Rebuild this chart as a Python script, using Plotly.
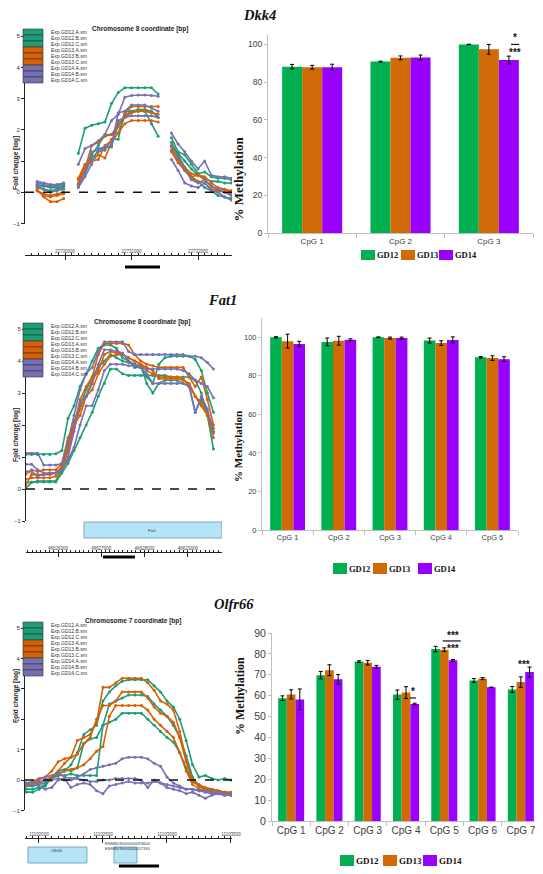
import plotly.graph_objects as go

W, H = 543, 874
OFF = 8  # browser default page margin
FW, FH = W - OFF, H - OFF

# ---------------- data ----------------
series_names = ["Exp.GD12.A.sm", "Exp.GD12.B.sm", "Exp.GD12.C.sm",
                "Exp.GD13.A.sm", "Exp.GD13.B.sm", "Exp.GD13.C.sm",
                "Exp.GD14.A.sm", "Exp.GD14.B.sm", "Exp.GD14.C.sm"]
series_colors = ["#1b9e77"] * 3 + ["#d95f02"] * 3 + ["#7570b3"] * 3

# Dkk4 tiling-array probes (chr8), three probe blocks
dkk4_pos_a = list(range(22729580, 22730000, 100))
dkk4_pos_b = list(range(22730200, 22731401, 100))
dkk4_pos_c = list(range(22731600, 22732501, 100))
dkk4_fc_a = [
    [0.20, 0.20, 0.15, 0.15, 0.20],
    [0.15, 0.10, 0.05, 0.10, 0.15],
    [0.25, 0.20, 0.20, 0.20, 0.25],
    [0.05, -0.05, -0.10, -0.05, 0.00],
    [0.10, -0.15, -0.30, -0.30, -0.20],
    [0.05, -0.10, -0.15, -0.10, -0.05],
    [0.35, 0.30, 0.25, 0.25, 0.30],
    [0.30, 0.25, 0.20, 0.20, 0.30],
    [0.20, 0.10, 0.00, 0.05, 0.10],
]
dkk4_fc_b = [
    [1.25, 2.05, 2.15, 2.20, 2.25, 2.85, 3.20, 3.35, 3.35, 3.35, 3.35, 3.35, 3.15],
    [0.20, 0.60, 1.10, 1.30, 1.35, 1.70, 1.70, 2.60, 2.60, 2.65, 2.65, 2.60, 2.40],
    [0.25, 0.80, 1.20, 1.50, 1.85, 1.85, 1.90, 2.45, 2.60, 2.60, 2.60, 2.20, 1.80],
    [0.45, 0.90, 1.00, 1.05, 1.50, 1.65, 2.10, 2.50, 2.75, 2.75, 2.75, 2.75, 2.75],
    [0.30, 0.75, 1.50, 1.60, 1.80, 1.85, 2.20, 2.40, 2.55, 2.60, 2.60, 2.55, 2.50],
    [0.40, 0.80, 1.00, 1.20, 1.10, 1.60, 1.90, 2.20, 2.30, 2.30, 2.30, 2.30, 2.25],
    [0.90, 1.40, 1.50, 1.65, 1.85, 2.30, 2.50, 3.05, 3.10, 3.12, 3.12, 3.10, 3.08],
    [0.20, 0.60, 1.30, 1.35, 1.40, 1.50, 2.55, 2.60, 2.80, 2.80, 2.80, 2.70, 2.60],
    [0.15, 0.50, 0.90, 1.40, 1.45, 1.45, 2.30, 2.40, 2.45, 2.45, 2.45, 2.45, 2.40],
]
dkk4_fc_c = [
    [1.75, 1.30, 1.20, 0.90, 0.60, 0.65, 0.50, 0.45, 0.45, 0.40],
    [1.50, 1.25, 1.00, 0.75, 0.55, 0.45, 0.35, 0.35, 0.30, 0.30],
    [1.60, 1.20, 0.80, 0.50, 0.35, 0.15, 0.05, -0.10, -0.15, -0.20],
    [1.50, 1.10, 0.80, 0.60, 0.55, 0.50, 0.30, 0.15, 0.10, 0.05],
    [1.35, 1.00, 0.75, 0.50, 0.55, 0.40, 0.20, 0.05, 0.10, 0.00],
    [1.30, 0.95, 0.70, 0.45, 0.35, 0.30, 0.10, 0.05, 0.00, -0.05],
    [1.90, 1.55, 1.30, 1.00, 0.75, 1.00, 0.55, 0.50, 0.50, 0.45],
    [1.45, 1.10, 0.75, 0.40, 0.30, 0.40, 0.20, 0.10, 0.00, -0.10],
    [1.05, 0.70, 0.30, 0.20, 0.15, 0.30, 0.05, 0.00, -0.15, -0.25],
]

# Fat1 probes (chr8)
fat1_pos = list(range(46625250, 46629591, 140))
fat1_fc = [
    [1.08, 1.08, 1.08, 1.08, 1.08, 1.10, 1.20, 2.20, 2.60, 3.20, 3.60, 4.00, 4.40, 4.50, 4.50,
     4.40, 4.10, 4.00, 3.80, 3.80, 3.50, 3.30, 3.90, 4.10, 4.15, 4.15, 4.15, 4.15, 4.05, 3.70, 3.00, 2.40],
    [0.20, 0.22, 0.22, 0.22, 0.22, 0.22, 0.50, 0.80, 1.20, 1.60, 2.00, 2.40, 2.90, 3.30, 3.75,
     3.75, 3.60, 3.55, 3.55, 3.55, 3.55, 3.55, 3.55, 3.55, 3.50, 3.50, 3.50, 3.50, 3.40, 3.00, 2.30, 1.25],
    [0.02, 0.20, 0.25, 0.25, 0.25, 0.25, 0.60, 1.30, 2.10, 2.60, 3.10, 3.50, 3.80, 4.00, 4.20,
     4.10, 4.00, 3.95, 3.90, 3.85, 3.30, 3.00, 3.30, 3.40, 3.40, 3.40, 3.30, 3.20, 2.40, 2.80, 2.40, 1.90],
    [0.45, 0.60, 0.55, 0.60, 0.60, 0.60, 0.80, 1.60, 2.00, 2.80, 3.20, 3.50, 4.20, 4.55, 4.55,
     4.55, 4.55, 4.50, 4.20, 4.00, 3.90, 3.85, 3.80, 3.80, 3.80, 3.80, 3.80, 3.50, 3.20, 3.50, 2.80, 2.00],
    [0.30, 0.35, 0.35, 0.35, 0.35, 0.40, 0.60, 1.20, 1.90, 2.50, 2.90, 3.40, 3.70, 4.20, 4.30,
     4.25, 4.20, 4.10, 4.00, 3.90, 3.70, 3.60, 3.50, 3.50, 3.50, 3.50, 3.45, 3.20, 2.90, 2.60, 2.30, 1.60],
    [0.10, 0.45, 0.45, 0.45, 0.45, 0.50, 0.70, 1.40, 2.00, 2.30, 2.90, 3.10, 3.60, 3.90, 4.15,
     4.20, 4.20, 4.10, 4.00, 3.90, 3.80, 3.70, 3.45, 3.45, 3.45, 3.45, 3.40, 3.30, 2.90, 2.70, 2.30, 1.80],
    [1.12, 1.12, 1.12, 0.75, 0.75, 0.75, 0.80, 1.50, 2.30, 3.10, 3.60, 3.80, 4.30, 4.60, 4.60,
     4.60, 4.60, 4.30, 4.20, 4.20, 4.20, 4.20, 4.20, 4.20, 4.20, 4.20, 4.20, 4.15, 4.15, 4.10, 3.95, 3.75],
    [0.77, 0.77, 0.60, 0.50, 0.50, 0.50, 0.60, 1.00, 1.80, 2.70, 2.90, 3.30, 3.90, 4.35, 4.35,
     4.30, 4.25, 4.00, 3.90, 3.80, 3.75, 3.75, 3.75, 3.75, 3.75, 3.75, 3.70, 3.60, 3.40, 3.30, 3.20, 2.85],
    [0.55, 0.55, 0.40, 0.45, 0.50, 0.50, 0.60, 0.90, 1.30, 2.00, 2.60, 2.60, 3.10, 3.70, 3.90,
     3.90, 3.90, 3.85, 3.85, 3.80, 3.60, 3.30, 3.30, 3.30, 3.30, 3.30, 3.30, 3.20, 2.40, 2.90, 2.50, 1.75],
]

# Olfr66 probes (chr7)
olfr66_pos = list(range(11101900, 11103501, 50))
olfr66_fc = [
    [-0.40, -0.40, -0.30, -0.20, 0.10, 0.20, 0.30, 0.50, 0.90, 1.50, 1.65,
     1.80, 2.60, 2.90, 3.10, 3.25, 3.30, 3.30, 3.30, 3.30, 3.10, 2.90,
     2.60, 2.40, 2.00, 1.30, 0.50, 0.10, 0.15, 0.05, 0.00, 0.05, 0.00],
    [-0.20, -0.20, -0.15, -0.10, 0.00, 0.30, 0.35, 0.30, 0.40, 1.20, 1.35,
     1.40, 1.80, 2.50, 2.60, 2.70, 2.80, 2.80, 2.80, 2.75, 2.50, 2.30,
     2.10, 1.80, 1.40, 0.80, 0.10, -0.20, -0.30, -0.35, -0.40, -0.40, -0.45],
    [-0.30, -0.30, -0.25, -0.15, 0.05, 0.15, 0.15, 0.20, 0.15, 0.15, 0.15,
     0.15, 1.80, 1.90, 2.00, 2.20, 2.20, 2.20, 2.20, 2.00, 1.80, 1.60,
     1.40, 1.25, 0.90, 0.40, -0.05, -0.20, -0.30, -0.35, -0.40, -0.40, -0.45],
    [-0.15, -0.10, -0.10, 0.00, 0.10, 0.30, 0.55, 0.75, 1.30, 1.40, 1.50,
     1.90, 3.05, 3.05, 3.20, 3.35, 3.35, 3.35, 3.35, 3.20, 2.95, 2.60,
     2.50, 2.30, 1.60, 0.65, 0.00, -0.15, -0.25, -0.30, -0.35, -0.40, -0.40],
    [-0.10, -0.05, 0.05, 0.10, 0.30, 0.60, 0.70, 0.75, 0.85, 1.20, 1.40,
     2.00, 2.45, 2.45, 2.60, 2.90, 2.90, 2.90, 2.90, 2.70, 2.40, 2.20,
     2.10, 1.90, 1.40, 0.60, 0.00, -0.20, -0.30, -0.30, -0.35, -0.40, -0.45],
    [-0.20, -0.15, -0.10, 0.00, 0.10, 0.20, 0.30, 0.35, 0.40, 0.50, 0.70,
     0.95, 1.10, 2.10, 2.45, 2.45, 2.45, 2.45, 2.45, 2.30, 2.00, 1.80,
     1.60, 1.40, 0.90, 0.30, -0.15, -0.30, -0.35, -0.40, -0.40, -0.45, -0.50],
    [-0.10, -0.10, 0.00, 0.10, 0.15, 0.25, 0.10, 0.05, 0.10, 0.20, 0.35,
     0.40, 0.45, 0.50, 0.55, 0.70, 0.75, 0.75, 0.75, 0.70, 0.55, 0.45,
     0.10, -0.10, -0.20, -0.30, -0.30, -0.35, -0.35, -0.40, -0.40, -0.45, -0.45],
    [-0.10, -0.10, -0.05, -0.05, 0.00, 0.05, 0.00, 0.00, 0.05, 0.00, -0.05,
     -0.05, 0.00, 0.00, 0.05, 0.05, 0.05, 0.05, 0.00, -0.25, 0.00, -0.10,
     -0.15, -0.20, -0.25, -0.30, -0.30, -0.35, -0.40, -0.45, -0.45, -0.50, -0.50],
    [-0.15, -0.15, -0.20, -0.30, -0.25, 0.00, 0.05, -0.25, -0.15, -0.10, -0.15,
     -0.35, -0.45, -0.20, -0.15, -0.10, -0.05, -0.10, -0.10, -0.10, -0.05, -0.10,
     -0.25, -0.30, -0.35, -0.45, -0.40, -0.50, -0.60, -0.50, -0.45, -0.50, -0.50],
]

# gene models / amplicons (genomic coordinates)
fat1_gene = [46626600, 46629788]
olfr66_gene = [11101914, 11102375]
ensmus_gene = [11102586, 11102766]
dkk4_amplicon = [22730902, 22731428]
fat1_amplicon = [46627039, 46627778]
olfr66_amplicon = [11102625, 11102938]

# Methylation (bar charts)
groups = ["GD12", "GD13", "GD14"]
bar_colors = ["#00b050", "#d06a06", "#9a00ff"]

dkk4_cpg = ["CpG 1", "CpG 2", "CpG 3"]
dkk4_meth = [[88.2, 90.9, 100.0], [87.9, 92.9, 97.4], [87.9, 93.1, 91.7]]
dkk4_err = [[1.2, 0.2, 0.1], [1.0, 1.0, 2.6], [1.6, 1.3, 2.1]]

fat1_cpg = ["CpG 1", "CpG 2", "CpG 3", "CpG 4", "CpG 5"]
fat1_meth = [[100.0, 97.6, 100.0, 98.3, 89.6], [98.0, 98.2, 99.6, 97.0, 89.2], [96.5, 98.7, 99.6, 98.6, 88.6]]
fat1_err = [[0.3, 2.0, 0.2, 1.3, 0.4], [3.6, 2.3, 0.5, 1.2, 1.2], [1.4, 0.5, 0.5, 1.6, 1.3]]

olfr66_cpg = ["CpG 1", "CpG 2", "CpG 3", "CpG 4", "CpG 5", "CpG 6", "CpG 7"]
olfr66_meth = [[58.8, 69.8, 76.3, 60.5, 82.3, 67.3, 63.0],
               [60.6, 72.2, 75.8, 61.5, 82.0, 68.2, 66.5],
               [58.2, 67.8, 73.8, 56.0, 76.9, 64.0, 71.3]]
olfr66_err = [[1.1, 1.8, 0.4, 2.2, 1.3, 0.9, 1.4],
              [2.2, 2.6, 1.1, 2.8, 0.9, 0.5, 2.5],
              [5.0, 2.3, 0.7, 0.4, 0.4, 0.1, 2.4]]

# ---------------- figure ----------------
fig = go.Figure()


def fx(px):
    return (px - OFF) / FW


def fy(py):
    return 1 - (py - OFF) / FH


def add_probe_lines(blocks, values, xa, ya):
    for k in range(len(series_names)):
        xs, ys = [], []
        for b, pos in enumerate(blocks):
            if b:
                xs.append(None)
                ys.append(None)
            xs += pos
            ys += values[b][k]
        fig.add_trace(go.Scatter(
            x=xs, y=ys, mode="lines+markers", name=series_names[k],
            line=dict(color=series_colors[k], width=1.6),
            marker=dict(color=series_colors[k], size=3),
            xaxis=xa, yaxis=ya, showlegend=False, connectgaps=False))


add_probe_lines([dkk4_pos_a, dkk4_pos_b, dkk4_pos_c], [dkk4_fc_a, dkk4_fc_b, dkk4_fc_c], "x", "y")
add_probe_lines([fat1_pos], [fat1_fc], "x3", "y3")
add_probe_lines([olfr66_pos], [olfr66_fc], "x5", "y5")


def add_bars(cats, meth, err, xa, ya):
    for g in range(3):
        fig.add_trace(go.Bar(
            x=cats, y=meth[g], name=groups[g], marker=dict(color=bar_colors[g], line=dict(width=0)),
            error_y=dict(type="data", array=err[g], color="#000000", thickness=1, width=2),
            xaxis=xa, yaxis=ya, showlegend=False))


add_bars(dkk4_cpg, dkk4_meth, dkk4_err, "x2", "y2")
add_bars(fat1_cpg, fat1_meth, fat1_err, "x4", "y4")
add_bars(olfr66_cpg, olfr66_meth, olfr66_err, "x6", "y6")

SANS = "Liberation Sans, Arial, sans-serif"
SERIF = "Liberation Serif, Times New Roman, serif"


def coord_axis(xrange, x0, x1, pos_py, dtick, minor_dtick):
    return dict(domain=[fx(x0), fx(x1)], range=xrange, anchor="free", position=fy(pos_py),
                side="top", showline=True, linecolor="#222", linewidth=1,
                ticks="inside", ticklen=4, tickcolor="#222", tick0=0, dtick=dtick,
                tickformat="d", tickfont=dict(family=SANS, size=4.5, color="#444"),
                minor=dict(dtick=minor_dtick, tick0=0, ticks="outside", ticklen=2, tickcolor="#222"),
                showgrid=False, zeroline=False, fixedrange=True)


def fc_axis(yrange, top_py, bot_py, anchor):
    return dict(domain=[fy(bot_py), fy(top_py)], range=yrange, anchor=anchor,
                tickvals=[-1, 0, 1, 2, 3, 4, 5], showline=True, linecolor="#222", linewidth=1,
                ticks="outside", ticklen=3, tickcolor="#222",
                tickfont=dict(family=SANS, size=6, color="#333"),
                showgrid=False, zeroline=False)


def cat_axis(x0, x1, anchor, fsize):
    return dict(domain=[fx(x0), fx(x1)], anchor=anchor, type="category", tickangle=0,
                showline=True, linecolor="#bfbfbf", linewidth=1,
                ticks="outside", tickson="boundaries", ticklen=4, tickcolor="#bfbfbf",
                tickfont=dict(family=SANS, size=fsize, color="#404040"),
                showgrid=False, zeroline=False)


def meth_axis(yrange, dtick, top_py, bot_py, anchor, fsize):
    return dict(domain=[fy(bot_py), fy(top_py)], range=yrange, dtick=dtick, anchor=anchor,
                showline=True, linecolor="#bfbfbf", linewidth=1,
                ticks="outside", ticklen=3, tickcolor="#bfbfbf",
                tickfont=dict(family=SANS, size=fsize, color="#404040"),
                showgrid=False, zeroline=False)


fig.update_layout(
    width=FW, height=FH, margin=dict(l=0, r=0, t=0, b=0, autoexpand=False),
    paper_bgcolor="white", plot_bgcolor="white", showlegend=False,
    barmode="group", bargap=0.32, bargroupgap=0,
    # row 1
    xaxis=coord_axis([22729398, 22732511], 25, 232, 255, 1000, 100),
    yaxis=fc_axis([-1, 5.15], 31.6, 223.5, "x"),
    xaxis2=cat_axis(268, 533, "y2", 8),
    yaxis2=meth_axis([0, 105], 20, 35, 233, "x2", 8.5),
    # row 2
    xaxis3=coord_axis([46625261, 46629788], 26, 222, 552, 1000, 100),
    yaxis3=fc_axis([-1, 5.2], 322.6, 521, "x3"),
    xaxis4=cat_axis(262, 518, "y4", 7.5),
    yaxis4=meth_axis([0, 110], 20, 318, 530, "x4", 7.5),
    # row 3
    xaxis5=coord_axis([11101891, 11103508], 25, 232, 838, 500, 50),
    yaxis5=fc_axis([-1, 5.2], 622, 810.4, "x5"),
    xaxis6=cat_axis(272, 540, "y6", 10),
    yaxis6=meth_axis([0, 90], 10, 633, 821, "x6", 10.5),
)

shapes = []
annos = []

# zero reference lines
for ya, xa in (("y", "x"), ("y3", "x3"), ("y5", "x5")):
    shapes.append(dict(type="line", xref=xa + " domain", x0=0, x1=1, yref=ya, y0=0, y1=0,
                       line=dict(color="#111", width=1.5, dash="dash")))

# left-chart legend blocks and captions
for top, ttl, ttl_x, ttl_y in ((29, "Chromosome 8 coordinate [bp]", 140, 29),
                                (323, "Chromosome 8 coordinate [bp]", 142, 322),
                                (622, "Chromosome 7 coordinate [bp]", 133, 621)):
    for k, name in enumerate(series_names):
        y0 = top + k * 6
        shapes.append(dict(type="rect", xref="paper", yref="paper",
                           x0=fx(23), x1=fx(43), y0=fy(y0 + 6), y1=fy(y0),
                           fillcolor=series_colors[k], line=dict(color="#333", width=0.6)))
        annos.append(dict(xref="paper", yref="paper", x=fx(49), y=fy(y0 + 3), text=name,
                          showarrow=False, xanchor="left", yanchor="middle",
                          font=dict(family=SANS, size=5, color="#333")))
    annos.append(dict(xref="paper", yref="paper", x=fx(ttl_x), y=fy(ttl_y), text="<b>" + ttl + "</b>",
                      showarrow=False, xanchor="center", yanchor="middle",
                      font=dict(family=SANS, size=6.5, color="#222")))

# fold change axis titles
for cy in (135, 435, 724):
    annos.append(dict(xref="paper", yref="paper", x=fx(11), y=fy(cy), text="<b>Fold change [log]</b>",
                      textangle=-90, showarrow=False, borderpad=0,
                      font=dict(family=SANS, size=6.5, color="#222")))

# gene boxes
gene_fill = "#b7e3f7"
gene_line = "#5b9bbd"
shapes.append(dict(type="rect", xref="x3", yref="paper", x0=fat1_gene[0], x1=fat1_gene[1],
                   y0=fy(538), y1=fy(522), fillcolor=gene_fill, line=dict(color=gene_line, width=0.8)))
annos.append(dict(xref="x3", yref="paper", x=(fat1_gene[0] + fat1_gene[1]) / 2, y=fy(530), text="Fat1",
                  showarrow=False, font=dict(family=SANS, size=4, color="#333")))
shapes.append(dict(type="rect", xref="x5", yref="paper", x0=olfr66_gene[0], x1=olfr66_gene[1],
                   y0=fy(863), y1=fy(847), fillcolor=gene_fill, line=dict(color=gene_line, width=0.8)))
annos.append(dict(xref="x5", yref="paper", x=(olfr66_gene[0] + olfr66_gene[1]) / 2, y=fy(855), text="Olfr66",
                  showarrow=False, font=dict(family=SANS, size=4, color="#333")))
shapes.append(dict(type="rect", xref="x5", yref="paper", x0=ensmus_gene[0], x1=ensmus_gene[1],
                   y0=fy(863), y1=fy(847), fillcolor=gene_fill, line=dict(color=gene_line, width=0.8)))
annos.append(dict(xref="paper", yref="paper", x=fx(103), y=fy(853),
                  text="ENSMUSG00000093604<br>ENSMUSG00000057330", xanchor="left",
                  showarrow=False, font=dict(family=SANS, size=4, color="#333")))

# amplicon bars
for xa, amp, py in (("x", dkk4_amplicon, 267), ("x3", fat1_amplicon, 557), ("x5", olfr66_amplicon, 866)):
    shapes.append(dict(type="line", xref=xa, yref="paper", x0=amp[0], x1=amp[1], y0=fy(py), y1=fy(py),
                       line=dict(color="#000", width=3)))

# gene titles
for txt, x, y in (("Dkk4", 242, 15), ("Fat1", 207, 300), ("Olfr66", 213, 604)):
    annos.append(dict(xref="paper", yref="paper", x=fx(x), y=fy(y), text="<b><i>" + txt + "</i></b>",
                      showarrow=False, xanchor="left", yanchor="middle", borderpad=0,
                      font=dict(family=SERIF, size=14.5, color="#111")))

# % Methylation titles
for x, y, s in ((238, 135, 13), (238, 447, 11), (240, 737, 12)):
    annos.append(dict(xref="paper", yref="paper", x=fx(x), y=fy(y), text="<b>% Methylation</b>",
                      textangle=-90, showarrow=False, font=dict(family=SERIF, size=s, color="#111")))

# bar legends
for boxes, ytop, ybot, fs in (([361, 401, 439], 250, 260, 8.5),
                               ([333, 373, 418], 563, 574, 8.5),
                               ([340, 383, 423], 855, 866, 9)):
    for g, bx in enumerate(boxes):
        shapes.append(dict(type="rect", xref="paper", yref="paper", x0=fx(bx), x1=fx(bx + 14),
                           y0=fy(ybot), y1=fy(ytop), fillcolor=bar_colors[g], line=dict(width=0)))
        annos.append(dict(xref="paper", yref="paper", x=fx(bx + 15), y=fy((ytop + ybot) / 2),
                          text="<b>" + groups[g] + "</b>", showarrow=False, xanchor="left",
                          yanchor="middle", borderpad=0, font=dict(family=SERIF, size=fs, color="#111")))

# significance marks
STAR = dict(family=SANS, size=10, color="#111")
sig = [
    ("x2", "y2", 2.30, 103.5, "*"), ("x2", "y2", 2.30, 95.5, "***"),
    ("x6", "y6", 3.18, 62.0, "*"),
    ("x6", "y6", 4.23, 89.0, "***"), ("x6", "y6", 4.23, 82.5, "***"),
    ("x6", "y6", 6.08, 75.0, "***"),
]
for xa, ya, x, y, t in sig:
    annos.append(dict(xref=xa, yref=ya, x=x, y=y, text="<b>" + t + "</b>", showarrow=False,
                      xanchor="center", yanchor="middle", font=STAR))
for xa, ya, x0, x1, y in (("x2", "y2", 2.252, 2.343, 100), ("x6", "y6", 3.10, 3.26, 58.9),
                          ("x6", "y6", 3.96, 4.43, 86.2)):
    shapes.append(dict(type="line", xref=xa, yref=ya, x0=x0, x1=x1, y0=y, y1=y,
                       line=dict(color="#111", width=1.2)))

fig.update_layout(shapes=shapes, annotations=annos)
fig.write_html("out.html")
